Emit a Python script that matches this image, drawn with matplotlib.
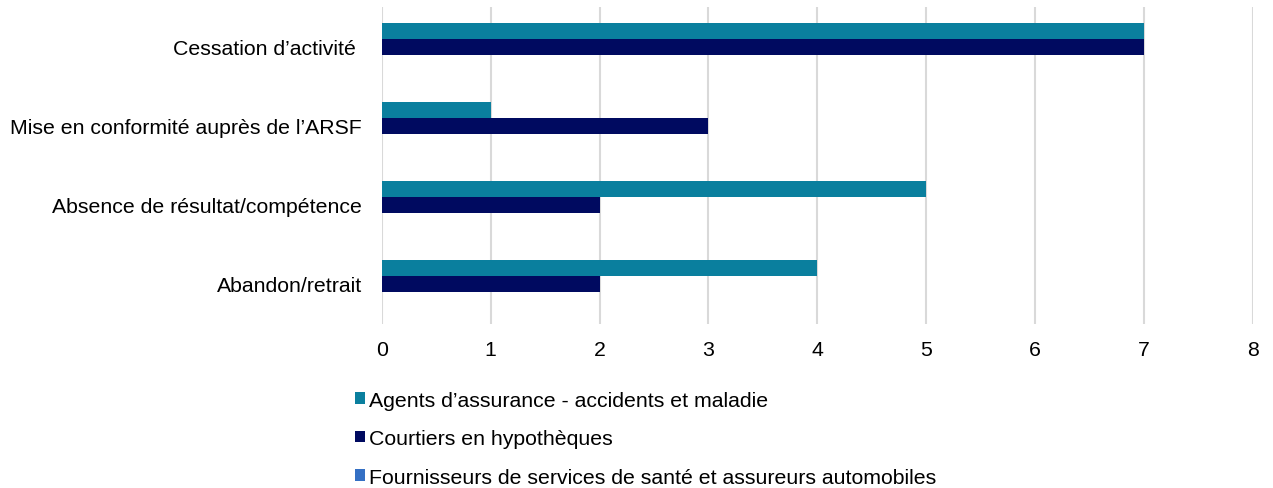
import numpy as np
import matplotlib.pyplot as plt

plt.rcParams['font.family'] = ['Liberation Sans', 'DejaVu Sans']

categories = ["Cessation d’activité ", "Mise en conformité auprès de l’ARSF",
              "Absence de résultat/compétence", "Abandon/retrait"]
series_names = ["Agents d’assurance - accidents et maladie",
                "Courtiers en hypothèques",
                "Fournisseurs de services de santé et assureurs automobiles"]
agents = [7, 1, 5, 4]
courtiers = [7, 3, 2, 2]
fournisseurs = [0, 0, 0, 0]
colors = ["#0A7F9E", "#000A60", "#3470C4"]

fs = 15.3
fig = plt.figure(figsize=(12.73, 4.89), dpi=100)
ax = fig.add_axes([0.300, 0.3364, 0.684, 0.6463])

y = np.arange(len(categories))
h = 0.2
for i, vals in enumerate([agents, courtiers, fournisseurs]):
    ax.barh(y + (i - 1) * h, vals, height=h, color=colors[i],
            label=series_names[i], zorder=3)

ax.set_ylim(len(categories) - 0.5, -0.5)
ax.set_xlim(0, 8)
ax.set_xticks(range(9))
ax.set_yticks(y)
ax.set_yticklabels(categories)
ax.tick_params(axis='y', length=0, pad=14.5, labelsize=fs)
ax.tick_params(axis='x', length=0, pad=12, labelsize=fs)
ax.grid(axis='x', color='#D9D9D9', linewidth=1.5, zorder=0)
for s in ax.spines.values():
    s.set_visible(False)

handles, labels = ax.get_legend_handles_labels()
fig.legend(handles, labels, loc='upper left', bbox_to_anchor=(0.2722, 0.2167),
           frameon=False, fontsize=fs, handlelength=0.48, handleheight=0.48,
           handletextpad=0.2, labelspacing=0.92, borderaxespad=0)

fig.savefig("out.png", dpi=100)
